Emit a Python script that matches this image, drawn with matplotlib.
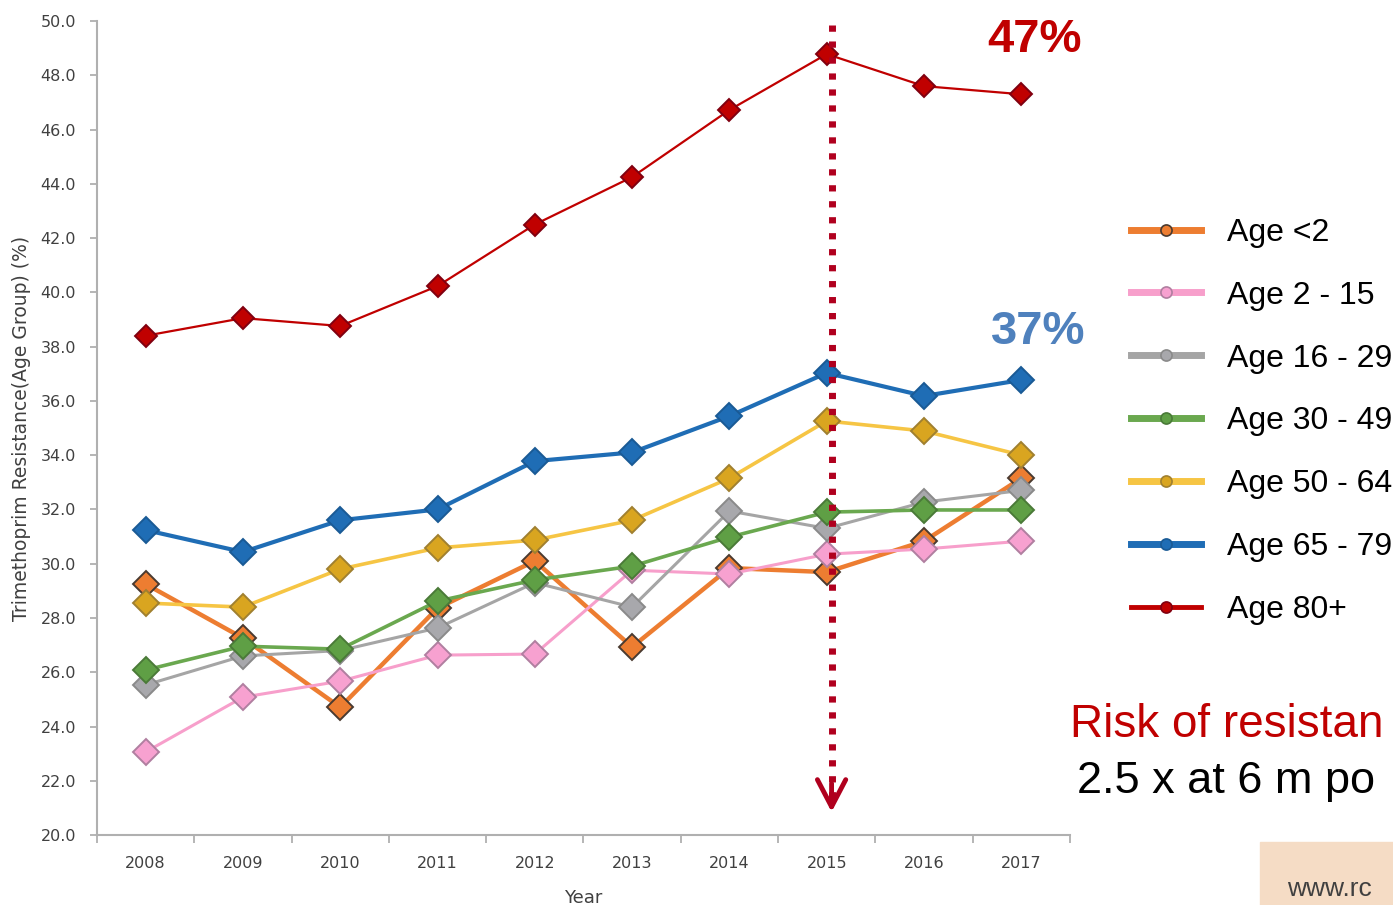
import numpy as np
import matplotlib.pyplot as plt
from matplotlib.lines import Line2D

years = [2008, 2009, 2010, 2011, 2012, 2013, 2014, 2015, 2016, 2017]

age_lt2 = [29.25, 27.26, 24.71, 28.36, 30.10, 26.93, 29.84, 29.69, 30.83, 33.15]
age_2_15 = [23.06, 25.08, 25.67, 26.63, 26.67, 29.76, 29.62, 30.35, 30.54, 30.83]
age_16_29 = [25.53, 26.60, 26.80, 27.63, 29.30, 28.40, 31.94, 31.30, 32.27, 32.70]
age_30_49 = [26.08, 26.96, 26.85, 28.62, 29.40, 29.91, 30.98, 31.90, 31.98, 31.98]
age_50_64 = [28.55, 28.40, 29.80, 30.58, 30.87, 31.60, 33.15, 35.26, 34.89, 34.00]
age_65_79 = [31.24, 30.43, 31.60, 32.00, 33.78, 34.10, 35.44, 37.03, 36.18, 36.77]
age_80 = [38.40, 39.05, 38.76, 40.23, 42.50, 44.25, 46.72, 48.78, 47.60, 47.30]

labels = ['Age <2', 'Age 2 - 15', 'Age 16 - 29', 'Age 30 - 49',
          'Age 50 - 64', 'Age 65 - 79', 'Age 80+']
series = [age_lt2, age_2_15, age_16_29, age_30_49, age_50_64, age_65_79, age_80]

line_cols = ['#ed7d31', '#f79fcb', '#a5a5a5', '#6aa84f', '#f6c544', '#1f6db5', '#c00000']
face_cols = ['#ed7d31', '#f7a1d0', '#a8a8ac', '#5f9f45', '#d9a520', '#1f6db5', '#c00000']
edge_cols = ['#4a3a30', '#b07fa0', '#8a8a8a', '#4a7a38', '#a08030', '#1a5a95', '#800010']
widths = [3.2, 2.2, 2.2, 2.6, 2.6, 3.0, 1.6]
msizes = [13, 13, 13, 13, 13, 13, 11]
leg_widths = [5, 5, 5, 5, 5, 5, 3.5]

fig = plt.figure(figsize=(13.93, 9.05), dpi=100)
ax = fig.add_axes([0.0696, 0.0773, 0.6985, 0.8995])

for vals, c, fc, ec, lw, ms in zip(series, line_cols, face_cols, edge_cols, widths, msizes):
    ax.plot(years, vals, color=c, lw=lw, marker='D', ms=ms,
            markerfacecolor=fc, markeredgecolor=ec, markeredgewidth=1.4)

ax.set_xlim(2007.5, 2017.5)
ax.set_ylim(20, 50)
ax.set_yticks(np.arange(20, 50.1, 2))
ax.set_yticklabels([f'{v:.1f}' for v in np.arange(20, 50.1, 2)])
ax.set_xticks(np.arange(2007.5, 2018, 1))
ax.set_xticklabels([])
ax.set_xticks(years, minor=True)
ax.set_xticklabels([str(y) for y in years], minor=True)
ax.tick_params(axis='x', which='minor', length=0, pad=15, labelsize=11.5, labelcolor='#404040')
ax.tick_params(axis='x', which='major', length=6, width=1.3, color='#b0b0b0')
ax.tick_params(axis='y', length=5, width=1.3, color='#b0b0b0', pad=10,
               labelsize=11.5, labelcolor='#404040')
for s in ['top', 'right']:
    ax.spines[s].set_visible(False)
for s in ['left', 'bottom']:
    ax.spines[s].set_color('#b0b0b0')
    ax.spines[s].set_linewidth(1.5)

ax.set_xlabel('Year', fontsize=13, color='#404040', labelpad=13)
ax.set_ylabel('Trimethoprim Resistance(Age Group) (%)', fontsize=13.5, color='#404040', labelpad=7)

# dotted marker at 2015 with open arrow head
mark_x = 2015.05
ax.plot([mark_x, mark_x], [49.85, 21.2], color='#b0001e', lw=5, dashes=(0.9, 1.4),
        clip_on=False, zorder=10)
ax.annotate('', xy=(mark_x, 20.85), xytext=(mark_x, 21.9),
            arrowprops=dict(arrowstyle='->, head_length=0.65, head_width=0.34',
                            color='#b0001e', lw=3.5, mutation_scale=30,
                            shrinkA=0, shrinkB=0),
            annotation_clip=False, zorder=10)

fig.text(1035 / 1393, 1 - 40 / 905, '47%', fontsize=34, fontweight='bold',
         color='#c00000', ha='center', va='center', family='Liberation Sans')
fig.text(1038 / 1393, 1 - 332 / 905, '37%', fontsize=34, fontweight='bold',
         color='#4f81bd', ha='center', va='center', family='Liberation Sans')

handles = [Line2D([], [], color=c, lw=w, marker='o', ms=8,
                  markerfacecolor=fc, markeredgecolor=ec, markeredgewidth=1.2)
           for c, fc, ec, w in zip(line_cols, face_cols, edge_cols, leg_widths)]
fig.legend(handles, labels, loc='upper left', bbox_to_anchor=(1118 / 1393, 1 - 205 / 905),
           frameon=False, prop={'family': 'Liberation Sans', 'size': 23},
           handlelength=2.2, handletextpad=0.8, labelspacing=1.03, borderaxespad=0)

fig.text(1070 / 1393, 1 - 737 / 905, 'Risk of resistan', fontsize=33,
         color='#c00000', ha='left', va='baseline', family='Liberation Sans')
fig.text(1077 / 1393, 1 - 793 / 905, '2.5 x at 6 m po', fontsize=32.5,
         color='black', ha='left', va='baseline', family='Liberation Sans')

fig.patches.append(plt.Rectangle((1260 / 1393, 0), 133 / 1393, 63 / 905,
                                 transform=fig.transFigure, color='#f5dcc5', zorder=0))
fig.text(1287 / 1393, 4 / 905, 'www.rc', fontsize=19, color='#404040',
         ha='left', va='bottom', family='Liberation Sans')

fig.savefig('out.png', dpi=100)
